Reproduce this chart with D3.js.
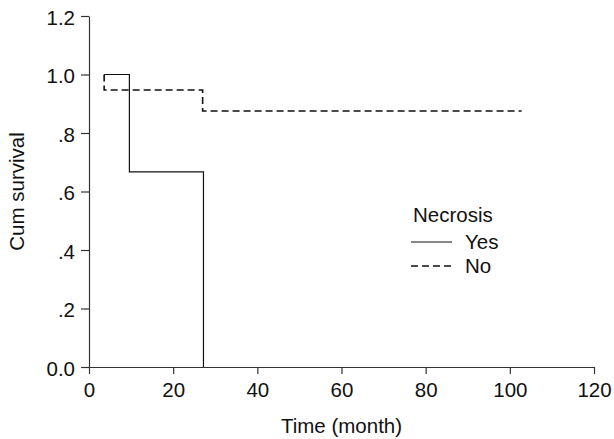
<!DOCTYPE html>
<html>
<head>
<meta charset="utf-8">
<script src="https://cdn.jsdelivr.net/npm/d3@7"></script>
<style>
  body { margin: 0; background: #fff; }
  svg text { font-family: "Liberation Sans", Arial, sans-serif; fill: #111; }
</style>
</head>
<body>
<svg id="chart" width="614" height="439"></svg>
<script>
// survival steps (time in months, cum survival)
const yesSteps = [[3.6, 1.0], [9.6, 1.0], [9.6, 0.667], [27.2, 0.667], [27.2, 0]];
const noSteps = [[3.6, 1.0], [3.6, 0.947], [27.0, 0.947], [27.0, 0.875], [102.8, 0.875]];

const xTicks = [0, 20, 40, 60, 80, 100, 120];
const yTicks = [0, 0.2, 0.4, 0.6, 0.8, 1.0, 1.2];
const yTickLabels = ['0.0', '.2', '.4', '.6', '.8', '1.0', '1.2'];

const legendTitle = 'Necrosis';
const legendItems = ['Yes', 'No'];
const dashes = { Yes: null, No: '7,4' };

const fontSize = '20.5px';

const svg = d3.select('#chart');

const x = d3.scaleLinear().domain([0, 120]).range([89, 594]);
const y = d3.scaleLinear().domain([0, 1.2]).range([367, 16]);

// axes
const xAxis = svg.append('g')
  .attr('transform', `translate(0,${y(0)})`)
  .call(d3.axisBottom(x).tickValues(xTicks).tickSize(7).tickPadding(4).tickSizeOuter(0));

const yAxis = svg.append('g')
  .attr('transform', `translate(${x(0)},0)`)
  .call(d3.axisLeft(y).tickValues(yTicks).tickSize(8).tickPadding(6).tickSizeOuter(0)
    .tickFormat((d, i) => yTickLabels[i]));

[xAxis, yAxis].forEach((ax) => {
  ax.select('.domain').attr('stroke', '#333').attr('stroke-width', 1.2);
  ax.selectAll('.tick line').attr('stroke', '#333').attr('stroke-width', 1.2);
  ax.selectAll('.tick text')
    .style('font-size', fontSize)
    .style('font-family', '"Liberation Sans", Arial, sans-serif')
    .attr('fill', '#111');
});
xAxis.selectAll('.tick text').attr('dy', '0.95em');
yAxis.selectAll('.tick text').attr('dy', '0.4em');

// axis titles
svg.append('text')
  .attr('x', (x(0) + x(120)) / 2)
  .attr('y', 433)
  .attr('text-anchor', 'middle')
  .style('font-size', fontSize)
  .text('Time (month)');

svg.append('text')
  .attr('transform', `translate(24,${(y(0) + y(1.2)) / 2}) rotate(-90)`)
  .attr('text-anchor', 'middle')
  .style('font-size', fontSize)
  .text('Cum survival');

// curves
const line = d3.line().x((d) => x(d[0])).y((d) => y(d[1]));

svg.append('path')
  .datum(yesSteps)
  .attr('d', line)
  .attr('fill', 'none')
  .attr('stroke', '#111')
  .attr('stroke-width', 1.2);

svg.append('path')
  .datum(noSteps)
  .attr('d', line)
  .attr('fill', 'none')
  .attr('stroke', '#111')
  .attr('stroke-width', 1.6)
  .attr('stroke-dasharray', dashes.No);

// legend
const legend = svg.append('g').attr('transform', 'translate(411,222)');

legend.append('text')
  .attr('x', 2)
  .attr('y', 0)
  .style('font-size', fontSize)
  .text(legendTitle);

const item = legend.selectAll('.item')
  .data(legendItems)
  .enter()
  .append('g')
  .attr('class', 'item')
  .attr('transform', (d, i) => `translate(0,${20 + i * 24})`);

item.append('line')
  .attr('x1', 0)
  .attr('x2', 41)
  .attr('y1', 0)
  .attr('y2', 0)
  .attr('stroke', '#111')
  .attr('stroke-width', (d) => (dashes[d] ? 1.6 : 1.2))
  .attr('stroke-dasharray', (d) => dashes[d]);

item.append('text')
  .attr('x', 54)
  .attr('y', 7)
  .style('font-size', fontSize)
  .text((d) => d);
</script>
</body>
</html>
